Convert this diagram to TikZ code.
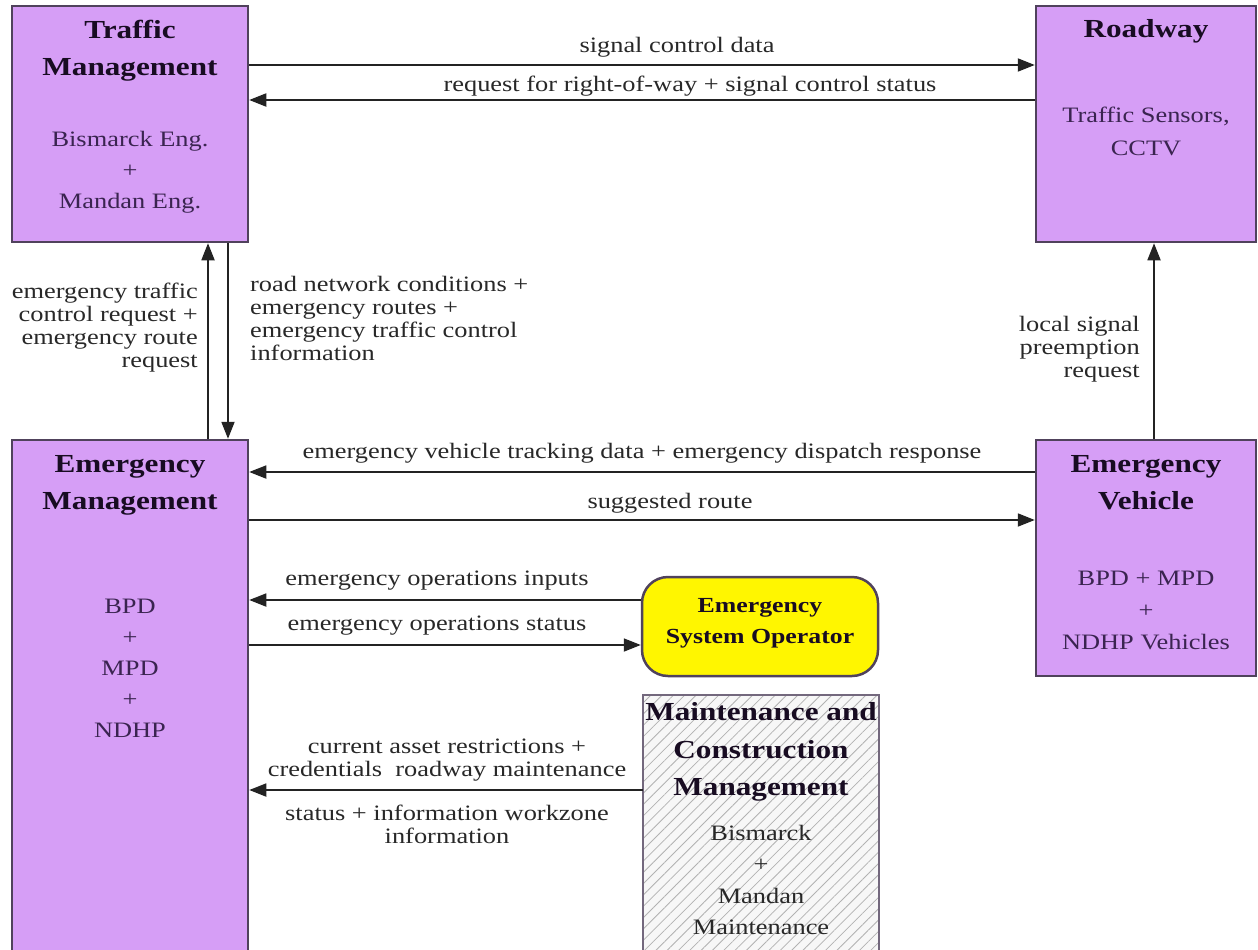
\documentclass[tikz,border=0pt]{standalone}
\usepackage{fontspec}
\setmainfont{Liberation Serif}[FakeStretch=1.2]
\usetikzlibrary{arrows.meta,patterns.meta}
\definecolor{boxpurple}{RGB}{214,158,246}
\definecolor{boxedge}{RGB}{80,66,92}
\definecolor{titlecol}{RGB}{24,12,34}
\definecolor{bodycol}{RGB}{58,36,80}
\definecolor{lblcol}{RGB}{40,40,40}
\definecolor{linecol}{RGB}{35,35,35}
\definecolor{esoyellow}{RGB}{255,246,0}
\tikzset{
  pbox/.style={draw=boxedge, line width=2.5pt, fill=boxpurple, inner sep=0pt},
  ybox/.style={draw=boxedge, line width=2.5pt, fill=esoyellow, rounded corners=26pt, inner sep=0pt},
  hbox/.style={draw=boxedge!80, line width=2.5pt, preaction={fill=gray!6}, pattern={Lines[angle=45,distance=8pt,line width=0.8pt]}, pattern color=gray!60, inner sep=0pt},
  title/.style={font=\bfseries\fontsize{26}{37}\selectfont, text=titlecol, align=center, inner sep=0pt},
  body/.style={font=\fontsize{22}{31}\selectfont, text=bodycol, align=center, inner sep=0pt},
  lbl/.style={font=\fontsize{22}{23}\selectfont, text=lblcol, inner sep=0pt},
  conn/.style={draw=linecol, line width=1.8pt, -{Triangle[length=17pt,width=13pt]}}
}
\begin{document}
\begin{tikzpicture}[x=1pt,y=-1pt]
\clip (0,0) rectangle (1258,950);
\fill[white] (0,0) rectangle (1258,950);
% boxes
\node[pbox, minimum width=236pt, minimum height=236pt] (tm) at (130,124) {};
\node[pbox, minimum width=220pt, minimum height=236pt] (rw) at (1146,124) {};
\node[pbox, minimum width=236pt, minimum height=520pt] (em) at (130,700) {};
\node[pbox, minimum width=220pt, minimum height=236pt] (ev) at (1146,558) {};
\node[ybox, minimum width=236pt, minimum height=99pt] (eso) at (760,626.5) {};
\node[hbox, minimum width=236pt, minimum height=265pt] (mcm) at (761,827.5) {};
% box texts
\node[title] (tmt) at (130,51) {Traffic\\Management};
\node[body] (tmb) at (130,172) {Bismarck Eng.\\+\\Mandan Eng.};
\node[title] (rwt) at (1146,31) {Roadway};
\node[body, font=\fontsize{22}{33}\selectfont] (rwb) at (1146,131) {Traffic Sensors,\\CCTV};
\node[title] (emt) at (130,485) {Emergency\\Management};
\node[body] (emb) at (130,668) {BPD\\+\\MPD\\+\\NDHP};
\node[title] (evt) at (1146,483) {Emergency\\Vehicle};
\node[body, font=\fontsize{22}{32}\selectfont] (evb) at (1146,610) {BPD + MPD\\+\\NDHP Vehicles};
\node[title, font=\bfseries\fontsize{21.5}{31}\selectfont] (esot) at (760,623) {Emergency\\System Operator};
\node[title, font=\bfseries\fontsize{26}{37.5}\selectfont] (mcmt) at (761,752) {Maintenance and\\Construction\\Management};
\node[body, text=lblcol, font=\fontsize{22}{31.5}\selectfont] (mcmb) at (761,880) {Bismarck\\+\\Mandan\\Maintenance};
% connectors
\draw[conn] (tm.east |- 0,65) -- (rw.west |- 0,65);
\draw[conn] (rw.west |- 0,100) -- (tm.east |- 0,100);
\draw[conn] (em.north -| 208,0) -- (tm.south -| 208,0);
\draw[conn] (tm.south -| 228,0) -- (em.north -| 228,0);
\draw[conn] (ev.north -| 1154,0) -- (rw.south -| 1154,0);
\draw[conn] (ev.west |- 0,472) -- (em.east |- 0,472);
\draw[conn] (em.east |- 0,520) -- (ev.west |- 0,520);
\draw[conn] (eso.west |- 0,600) -- (em.east |- 0,600);
\draw[conn] (em.east |- 0,645) -- (eso.west |- 0,645);
\draw[conn] (mcm.west |- 0,790) -- (em.east |- 0,790);
% labels
\node[lbl] (l1) at (677,47) {signal control data};
\node[lbl] (l2) at (690,86) {request for right-of-way + signal control status};
\node[lbl, align=right, anchor=east] (l3) at (198,328) {emergency traffic\\control request +\\emergency route\\request};
\node[lbl, align=left, anchor=west] (l4) at (250,318) {road network conditions +\\emergency routes +\\emergency traffic control\\information};
\node[lbl, align=right, anchor=east] (l5) at (1140,349) {local signal\\preemption\\request};
\node[lbl] (l6) at (642,453) {emergency vehicle tracking data + emergency dispatch response};
\node[lbl] (l7) at (670,503) {suggested route};
\node[lbl] (l8) at (437,581) {emergency operations inputs};
\node[lbl] (l9) at (437,626) {emergency operations status};
\node[lbl, align=center] (l10) at (447,791) {current asset restrictions +\\credentials\ \ roadway maintenance\\[21pt]status + information workzone\\information};
\end{tikzpicture}
\end{document}
